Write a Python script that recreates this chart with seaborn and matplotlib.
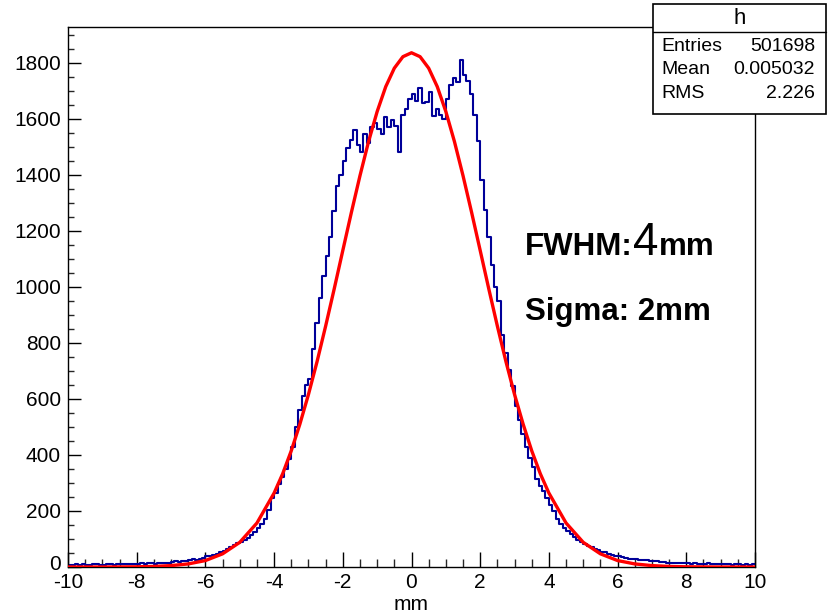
import numpy as np
import pandas as pd
import matplotlib
matplotlib.use("Agg")
import matplotlib.pyplot as plt
from matplotlib.patches import Rectangle
from matplotlib.lines import Line2D
from matplotlib.transforms import ScaledTranslation
import seaborn as sns

# ---------------- data ----------------
bin_lo, bin_hi, bin_w = -10.0, 10.0, 0.1
counts = (
    [8, 6, 9, 7, 10, 8, 6, 9, 11, 8, 7, 10, 9, 8, 11, 9, 10, 12, 9, 11]      # -10..-8
    + [12, 14, 11, 13, 15, 12, 14, 16, 13, 15]                              # -8..-7
    + [17, 20, 19, 23, 22, 25, 27, 26, 30, 33]                              # -7..-6
    + [38, 40, 44, 48, 52, 57, 63, 70, 77, 84]                              # -6..-5
    + [90, 96, 104, 115, 126, 138, 152, 172, 205, 245]                      # -5..-4
    + [265, 295, 320, 350, 385, 430, 500, 560, 610, 650]                    # -4..-3
    + [670, 780, 870, 960, 1040, 1110, 1180, 1270, 1360, 1400]              # -3..-2
    + [1450, 1495, 1525, 1560, 1505, 1480, 1545, 1515, 1570, 1585]          # -2..-1
    + [1565, 1545, 1605, 1570, 1595, 1575, 1480, 1615, 1635, 1670]          # -1..0
    + [1690, 1665, 1710, 1655, 1660, 1695, 1610, 1635, 1615, 1600]          # 0..1
    + [1670, 1720, 1745, 1730, 1810, 1755, 1735, 1690, 1615, 1520]          # 1..2
    + [1380, 1275, 1180, 1080, 1000, 950, 830, 765, 705, 645]               # 2..3
    + [575, 525, 475, 430, 390, 358, 315, 290, 272, 245]                    # 3..4
    + [222, 200, 172, 155, 140, 128, 117, 106, 97, 90]                      # 4..5
    + [82, 76, 70, 64, 59, 55, 52, 48, 44, 40]                              # 5..6
    + [38, 35, 33, 30, 28, 27, 26, 25, 24, 23]                              # 6..7
    + [22, 20, 18, 17, 16, 15, 15, 14, 13, 13]                              # 7..8
    + [13, 12, 14, 11, 12, 10, 13, 11, 10, 12, 9, 11, 10, 8, 10, 9, 8, 10, 7, 9]  # 8..10
)

fit_x = [-10, -9, -8, -7.5, -7, -6.5, -6, -5.5, -5, -4.5, -4, -3.75, -3.5, -3.25,
         -3, -2.75, -2.5, -2.25, -2, -1.75, -1.5, -1.25, -1, -0.75, -0.5, -0.25,
         0, 0.25, 0.5, 0.75, 1, 1.25, 1.5, 1.75, 2, 2.25, 2.5, 2.75, 3, 3.25,
         3.5, 3.75, 4, 4.5, 5, 5.5, 6, 6.5, 7, 7.5, 8, 9, 10]
fit_y = [0, 0, 0.7, 2, 5, 11, 23, 47, 88, 157, 264, 333, 415, 510,
         616, 733, 860, 993, 1130, 1266, 1397, 1519, 1626, 1715, 1781, 1822,
         1836, 1822, 1781, 1715, 1626, 1519, 1397, 1266, 1130, 993, 860, 733, 616, 510,
         415, 333, 264, 157, 88, 47, 23, 11, 5, 2, 0.7, 0, 0]

stats_title = "h"
stats_rows = [("Entries", "501698"), ("Mean", "0.005032"), ("RMS", "2.226")]
x_ticks = [-10, -8, -6, -4, -2, 0, 2, 4, 6, 8, 10]
y_ticks = [0, 200, 400, 600, 800, 1000, 1200, 1400, 1600, 1800]
x_label = "mm"

# ---------------- figure ----------------
sns.set_theme(style="white")
plt.rcParams['font.family'] = ['Liberation Sans', 'DejaVu Sans']
plt.rcParams['axes.unicode_minus'] = False
plt.rcParams['text.color'] = 'black'

W, H = 831, 616
fig = plt.figure(figsize=(W / 100, H / 100), dpi=100)

def fx(px):
    return px / W

def fy(py):
    return 1 - py / H

ax_l, ax_r, ax_t, ax_b = 68, 755, 27, 567
ax = fig.add_axes([fx(ax_l), fy(ax_b), fx(ax_r) - fx(ax_l), fy(ax_t) - fy(ax_b)])

n_bins = len(counts)
centers = bin_lo + bin_w * (np.arange(n_bins) + 0.5)
df = pd.DataFrame({"x": centers, "w": np.asarray(counts, dtype=float)})

sns.histplot(data=df, x="x", weights="w", binwidth=bin_w, binrange=(bin_lo, bin_hi),
             element="step", fill=False, color="#000099", linewidth=1.5, ax=ax)
sns.lineplot(x=fit_x, y=fit_y, color="#ff0000", linewidth=2.4, ax=ax, zorder=5)

ax.set_xlim(-10, 10)
ax.set_ylim(0, 1928)
ax.set_xticks(x_ticks)
ax.set_yticks(y_ticks)
ax.set_xticks(np.arange(-10, 10.01, 0.5), minor=True)
ax.set_yticks(np.arange(0, 1928, 50), minor=True)
ax.tick_params(axis="x", which="major", direction="in", length=11, width=1,
               labelsize=15, pad=4.5, colors="black", bottom=True, top=False)
ax.tick_params(axis="x", which="minor", direction="in", length=6, width=1,
               bottom=True, top=False)
ax.tick_params(axis="y", which="major", direction="in", length=9, width=1,
               labelsize=15, pad=5, colors="black", left=True, right=False)
ax.tick_params(axis="y", which="minor", direction="in", length=4.5, width=1,
               left=True, right=False)
ax.set_xlabel(x_label, fontsize=15, labelpad=2, color="black")
ax.set_ylabel("")
for s in ax.spines.values():
    s.set_color("black")
    s.set_linewidth(1.0)

# lift the "0" y label slightly so it clears the "-10" x label (as in the reference)
zero_lbl = ax.yaxis.get_major_ticks()[0].label1
zero_lbl.set_transform(zero_lbl.get_transform() + ScaledTranslation(0, 3 / 72, fig.dpi_scale_trans))

# annotation texts
fig.text(fx(525), fy(255), "FWHM:", fontsize=22.5, fontweight="bold", ha="left", va="baseline")
fig.text(fx(633), fy(255), "4", fontsize=33, fontweight="normal", ha="left", va="baseline")
fig.text(fx(659), fy(255), "mm", fontsize=22.5, fontweight="bold", ha="left", va="baseline")
fig.text(fx(525), fy(320), "Sigma: 2mm", fontsize=22.5, fontweight="bold", ha="left", va="baseline")

# stats box
bx_l, bx_r, bx_t, bx_b, bx_div = 653, 826, 4, 114, 32
fig.add_artist(Rectangle((fx(bx_l), fy(bx_b)), fx(bx_r) - fx(bx_l), fy(bx_t) - fy(bx_b),
                         transform=fig.transFigure, facecolor="white", edgecolor="black",
                         linewidth=1.2, zorder=10))
fig.add_artist(Line2D([fx(bx_l), fx(bx_r)], [fy(bx_div), fy(bx_div)],
                      transform=fig.transFigure, color="black", linewidth=1.0, zorder=11))
fig.text(fx((bx_l + bx_r) / 2), fy(19), stats_title, fontsize=16, ha="center", va="center", zorder=12)
row_y = [46.5, 70, 93.5]
for (k, v), yy in zip(stats_rows, row_y):
    fig.text(fx(661), fy(yy), k, fontsize=14, ha="left", va="center", zorder=12)
    fig.text(fx(815), fy(yy), v, fontsize=14, ha="right", va="center", zorder=12)

fig.savefig("out.png", dpi=100)
